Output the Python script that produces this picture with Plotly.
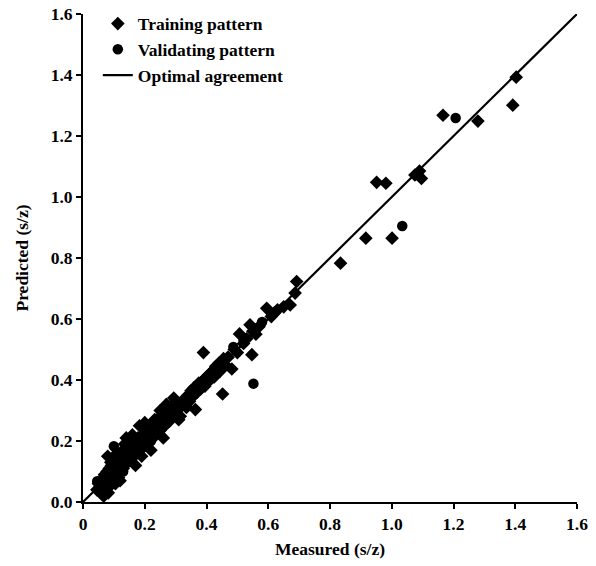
import plotly.graph_objects as go

# Training pattern (measured, predicted)
train_x = [0.045,0.05,0.055,0.06,0.065,0.067,0.07,0.072,0.075,0.078,0.08,0.082,0.085,0.088,0.09,0.092,0.095,0.098,0.1,0.1,
           0.103,0.105,0.108,0.11,0.112,0.115,0.118,0.12,0.122,0.125,0.128,0.13,0.133,0.135,0.14,0.14,0.143,0.147,0.15,0.153,
           0.157,0.16,0.163,0.167,0.17,0.175,0.178,0.183,0.185,0.19,0.193,0.197,0.2,0.203,0.207,0.21,0.215,0.22,0.222,0.228,
           0.232,0.235,0.24,0.245,0.25,0.255,0.26,0.265,0.27,0.275,0.28,0.285,0.29,0.294,0.3,0.305,0.315,0.32,0.33,0.335,
           0.34,0.345,0.35,0.355,0.364,0.36,0.37,0.375,0.38,0.39,0.39,0.395,0.4,0.405,0.41,0.42,0.425,0.43,0.44,0.445,
           0.452,0.455,0.46,0.47,0.482,0.49,0.5,0.507,0.52,0.53,0.541,0.547,0.55,0.56,0.57,0.595,0.61,0.62,0.63,0.65,
           0.671,0.687,0.692,0.834,0.916,0.951,0.981,1.001,1.075,1.09,1.096,1.166,1.279,1.392,1.403,
           0.09,0.11,0.16,0.2,0.25,0.27,0.12,0.17,0.22,0.26,0.31,0.08,0.135,0.19]
train_y = [0.04,0.06,0.05,0.075,0.03,0.019,0.09,0.06,0.045,0.1,0.07,0.03,0.11,0.085,0.055,0.12,0.1,0.075,0.14,0.09,
           0.115,0.06,0.13,0.1,0.155,0.08,0.12,0.14,0.1,0.165,0.13,0.11,0.15,0.12,0.21,0.17,0.135,0.16,0.18,0.14,
           0.19,0.165,0.15,0.2,0.175,0.16,0.21,0.25,0.19,0.175,0.22,0.2,0.185,0.24,0.21,0.195,0.23,0.25,0.205,0.235,
           0.27,0.22,0.25,0.275,0.235,0.26,0.29,0.25,0.28,0.3,0.265,0.315,0.29,0.341,0.3,0.325,0.281,0.315,0.34,0.31,
           0.35,0.33,0.365,0.345,0.303,0.375,0.36,0.39,0.37,0.49,0.4,0.38,0.41,0.395,0.42,0.43,0.41,0.445,0.455,0.43,
           0.354,0.47,0.45,0.475,0.436,0.5,0.49,0.551,0.52,0.535,0.581,0.483,0.56,0.55,0.575,0.635,0.608,0.62,0.63,0.64,
           0.646,0.685,0.723,0.783,0.865,1.048,1.045,0.865,1.072,1.085,1.061,1.268,1.249,1.301,1.393,
           0.13,0.16,0.22,0.26,0.3,0.32,0.07,0.12,0.17,0.21,0.27,0.15,0.19,0.15]

# Validating pattern (measured, predicted)
valid_x = [0.046,0.06,0.075,0.085,0.1,0.1,0.12,0.13,0.15,0.17,0.18,0.2,0.22,0.24,0.26,0.28,0.3,0.33,0.36,0.41,
           0.487,0.52,0.552,0.58,1.034,1.207]
valid_y = [0.068,0.05,0.08,0.065,0.183,0.11,0.13,0.1,0.15,0.19,0.17,0.22,0.2,0.24,0.27,0.28,0.31,0.32,0.36,0.4,
           0.508,0.53,0.388,0.59,0.905,1.259]

# Optimal agreement line
line_x = [0, 1.6]
line_y = [0, 1.6]

x_ticks = [0, 0.2, 0.4, 0.6, 0.8, 1.0, 1.2, 1.4, 1.6]
x_labels = ["0", "0.2", "0.4", "0.6", "0.8", "1.0", "1.2", "1.4", "1.6"]
y_ticks = [0, 0.2, 0.4, 0.6, 0.8, 1.0, 1.2, 1.4, 1.6]
y_labels = ["0.0", "0.2", "0.4", "0.6", "0.8", "1.0", "1.2", "1.4", "1.6"]

FONT = "Liberation Serif"
FS = 17.5

fig = go.Figure()
fig.add_trace(go.Scatter(x=line_x, y=line_y, mode="lines", name="Optimal agreement",
                         line=dict(color="black", width=2.2), legendrank=3))
fig.add_trace(go.Scatter(x=train_x, y=train_y, mode="markers", name="Training pattern",
                         marker=dict(symbol="diamond", size=10.5, color="black", line=dict(width=0)),
                         legendrank=1, cliponaxis=False))
fig.add_trace(go.Scatter(x=valid_x, y=valid_y, mode="markers", name="Validating pattern",
                         marker=dict(symbol="circle", size=10.5, color="black", line=dict(width=0)),
                         legendrank=2, cliponaxis=False))

axis_common = dict(range=[0, 1.6], showline=True, linecolor="black", linewidth=2,
                   ticks="outside", ticklen=5, tickwidth=2, tickcolor="black",
                   showgrid=False, zeroline=False,
                   tickfont=dict(family=FONT, size=FS, color="black", weight="bold"))

fig.update_layout(
    width=596, height=566,
    margin=dict(l=82.5, r=18.5, t=13.5, b=63.5, autoexpand=False),
    plot_bgcolor="white", paper_bgcolor="white",
    font=dict(family=FONT, size=FS, color="black"),
    xaxis=dict(tickvals=x_ticks, ticktext=x_labels,
               title=dict(text="Measured (s/z)", font=dict(family=FONT, size=FS, weight="bold"), standoff=10),
               **axis_common),
    yaxis=dict(tickvals=y_ticks, ticktext=y_labels,
               title=dict(text="Predicted (s/z)", font=dict(family=FONT, size=FS, weight="bold"), standoff=18),
               **axis_common),
    legend=dict(x=0.03, y=1.017, xanchor="left", yanchor="top", bgcolor="rgba(0,0,0,0)",
                font=dict(family=FONT, size=FS, weight="bold"), tracegroupgap=0),
    showlegend=True,
)

fig.write_html("out.html")
